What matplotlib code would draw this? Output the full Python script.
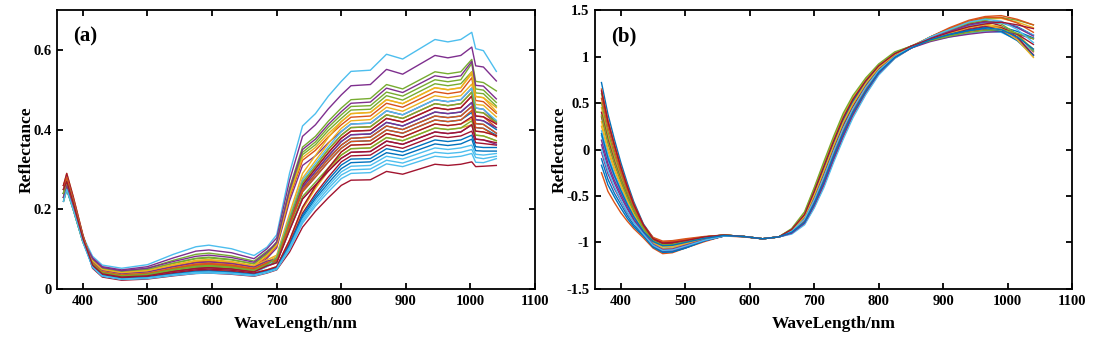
import matplotlib
matplotlib.use("Agg")
import matplotlib.pyplot as plt

# ---------------- data ----------------
# (a) raw reflectance spectra
wavelength_a = [370, 375, 385, 400, 415, 430, 460, 500, 540, 575, 595, 630, 665, 685, 700,
                720, 740, 760, 780, 800, 815, 845, 870, 895, 945, 965, 985, 1002, 1008, 1020, 1040]

raw_spectra = [
    [.240, .270, .216, .127, .060, .038, .030, .034, .045, .053, .055, .051, .044, .059, .071, .160, .244, .281, .319, .353, .370, .372, .399, .391, .424, .420, .424, .443, .405, .403, .386],
    [.230, .260, .208, .122, .062, .040, .032, .036, .049, .058, .060, .056, .047, .062, .077, .171, .261, .302, .342, .378, .396, .398, .428, .419, .455, .450, .455, .484, .434, .432, .405],
    [.250, .270, .216, .127, .058, .036, .028, .031, .041, .048, .050, .047, .040, .048, .056, .120, .200, .252, .296, .336, .352, .354, .380, .372, .404, .400, .404, .412, .386, .384, .372],
    [.220, .250, .200, .118, .065, .043, .035, .040, .053, .063, .065, .061, .052, .077, .103, .221, .310, .334, .367, .395, .414, .416, .447, .437, .475, .470, .475, .504, .454, .451, .418],
    [.240, .270, .216, .127, .075, .053, .045, .052, .072, .087, .090, .083, .070, .095, .114, .244, .343, .369, .406, .437, .458, .460, .494, .484, .525, .520, .525, .566, .502, .499, .468],
    [.250, .280, .224, .132, .082, .060, .052, .061, .087, .106, .110, .101, .084, .105, .136, .291, .409, .440, .484, .521, .546, .549, .589, .577, .626, .620, .626, .644, .603, .598, .546],
    [.260, .280, .224, .132, .052, .030, .022, .025, .033, .039, .040, .037, .032, .040, .048, .093, .155, .195, .229, .260, .273, .274, .295, .288, .313, .310, .313, .319, .307, .308, .310],
    [.230, .260, .208, .122, .063, .041, .033, .037, .048, .056, .058, .054, .047, .062, .075, .167, .255, .295, .334, .370, .387, .389, .418, .409, .444, .440, .444, .468, .425, .422, .400],
    [.240, .270, .216, .127, .068, .046, .038, .043, .057, .068, .070, .065, .056, .081, .108, .230, .323, .348, .382, .412, .431, .434, .466, .456, .495, .490, .495, .530, .473, .470, .441],
    [.260, .290, .232, .136, .057, .035, .027, .030, .040, .047, .048, .045, .039, .047, .055, .123, .205, .258, .303, .344, .361, .363, .390, .381, .414, .410, .414, .427, .396, .394, .385],
    [.230, .260, .208, .122, .078, .056, .048, .056, .078, .095, .098, .091, .076, .101, .128, .273, .383, .412, .452, .487, .510, .513, .551, .539, .586, .580, .586, .607, .560, .557, .522],
    [.240, .270, .216, .127, .072, .050, .042, .048, .065, .077, .080, .074, .063, .088, .119, .254, .356, .383, .421, .454, .475, .478, .513, .502, .545, .540, .545, .576, .521, .518, .497],
    [.220, .250, .200, .118, .055, .033, .025, .028, .035, .041, .042, .039, .034, .042, .050, .102, .170, .214, .252, .286, .299, .301, .323, .316, .343, .340, .343, .350, .330, .327, .333],
    [.250, .280, .224, .132, .057, .035, .027, .030, .039, .046, .047, .044, .038, .046, .054, .114, .190, .239, .281, .319, .334, .336, .361, .353, .384, .380, .384, .396, .367, .365, .361],
    [.240, .270, .216, .127, .061, .039, .031, .035, .046, .054, .056, .052, .045, .060, .073, .163, .249, .288, .327, .361, .378, .381, .409, .400, .434, .430, .434, .458, .415, .413, .391],
    [.250, .280, .224, .132, .066, .044, .036, .040, .052, .061, .063, .059, .051, .066, .078, .175, .267, .308, .350, .386, .405, .407, .437, .428, .465, .460, .465, .494, .444, .442, .414],
    [.230, .260, .208, .122, .070, .048, .040, .045, .059, .070, .072, .067, .058, .073, .085, .190, .290, .335, .380, .420, .440, .443, .475, .465, .505, .500, .505, .540, .483, .480, .455],
    [.240, .270, .216, .127, .059, .037, .029, .032, .043, .050, .052, .049, .042, .057, .066, .148, .226, .261, .296, .328, .343, .345, .371, .363, .394, .390, .394, .412, .376, .374, .363],
    [.220, .250, .200, .118, .074, .052, .044, .049, .064, .076, .078, .073, .063, .088, .112, .240, .337, .362, .398, .428, .449, .451, .485, .474, .515, .510, .515, .545, .492, .490, .459],
    [.230, .260, .208, .122, .054, .032, .024, .026, .034, .039, .040, .038, .033, .041, .049, .099, .165, .208, .244, .277, .290, .292, .314, .307, .333, .330, .333, .340, .318, .317, .327],
    [.260, .290, .232, .136, .060, .038, .030, .034, .044, .052, .054, .050, .043, .058, .077, .171, .261, .302, .342, .378, .396, .398, .428, .419, .455, .450, .455, .484, .434, .432, .414],
    [.240, .270, .216, .127, .056, .034, .026, .029, .037, .043, .044, .041, .036, .044, .052, .108, .180, .227, .266, .302, .317, .319, .342, .335, .364, .360, .364, .376, .347, .346, .346],
    [.230, .260, .208, .122, .064, .042, .034, .038, .050, .059, .061, .057, .049, .064, .071, .160, .244, .281, .319, .353, .370, .372, .399, .391, .424, .420, .424, .448, .405, .403, .382],
    [.250, .270, .216, .127, .067, .045, .037, .041, .054, .064, .066, .062, .053, .068, .082, .182, .278, .322, .365, .403, .422, .425, .456, .446, .485, .480, .485, .514, .463, .461, .432],
    [.240, .270, .216, .127, .069, .047, .039, .043, .056, .066, .068, .064, .055, .070, .075, .167, .255, .295, .334, .370, .387, .389, .418, .409, .444, .440, .444, .468, .425, .422, .405],
    [.230, .250, .200, .118, .061, .039, .031, .035, .047, .055, .057, .053, .045, .060, .068, .152, .232, .268, .304, .336, .352, .354, .380, .372, .404, .400, .404, .422, .386, .384, .372],
    [.250, .280, .224, .132, .059, .037, .029, .032, .042, .049, .051, .048, .041, .056, .080, .179, .273, .315, .357, .395, .414, .416, .447, .437, .475, .470, .475, .504, .454, .451, .423],
    [.260, .280, .224, .132, .058, .036, .028, .031, .041, .048, .050, .047, .040, .048, .056, .123, .205, .258, .303, .344, .361, .363, .390, .381, .414, .410, .414, .432, .396, .394, .385],
    [.240, .260, .208, .122, .056, .034, .026, .029, .037, .044, .045, .042, .036, .044, .052, .111, .185, .233, .274, .311, .326, .327, .352, .344, .374, .370, .374, .386, .357, .355, .355],
    [.250, .280, .224, .132, .065, .043, .035, .039, .052, .062, .064, .060, .051, .066, .073, .163, .249, .288, .327, .361, .378, .381, .409, .400, .434, .430, .434, .458, .415, .413, .391],
    [.240, .270, .216, .127, .071, .049, .041, .046, .061, .072, .074, .069, .059, .084, .110, .235, .330, .355, .390, .420, .440, .443, .475, .465, .505, .500, .505, .545, .483, .480, .445],
    [.230, .260, .208, .122, .076, .054, .046, .052, .069, .082, .085, .079, .067, .092, .117, .249, .350, .376, .413, .445, .466, .469, .504, .493, .535, .530, .535, .571, .511, .509, .477],
    [.240, .270, .216, .127, .063, .041, .033, .037, .049, .057, .059, .055, .047, .062, .078, .175, .267, .308, .350, .386, .405, .407, .437, .428, .465, .460, .465, .494, .444, .442, .419],
    [.220, .250, .200, .118, .055, .033, .025, .028, .036, .042, .043, .040, .035, .043, .051, .105, .175, .221, .259, .294, .308, .310, .333, .326, .354, .350, .354, .361, .338, .336, .340],
    [.250, .270, .216, .127, .060, .038, .030, .033, .044, .051, .053, .050, .043, .058, .066, .148, .226, .261, .296, .328, .343, .345, .371, .363, .394, .390, .394, .412, .376, .374, .367],
]

# (b) standardised (SNV) spectra
wavelength_b = [370, 380, 390, 400, 410, 420, 435, 450, 465, 480, 500, 530, 560, 590, 620, 645, 665,
                685, 700, 715, 730, 745, 760, 780, 800, 825, 850, 880, 910, 940, 965, 990, 1015, 1040]

snv_spectra = [
    [.72, .38, .11, -.14, -.36, -.56, -.80, -.95, -1.005, -1.00, -.98, -.94, -.92, -.935, -.96, -.94, -.87, -.72, -.48, -.22, .05, .30, .50, .71, .88, 1.02, 1.10, 1.20, 1.27, 1.34, 1.37, 1.37, 1.32, 1.23],
    [-.25, -.45, -.57, -.68, -.77, -.85, -.95, -1.06, -1.12, -1.11, -1.06, -.99, -.93, -.94, -.96, -.94, -.90, -.80, -.62, -.39, -.12, .13, .36, .60, .81, .98, 1.09, 1.17, 1.22, 1.27, 1.29, 1.27, 1.19, 1.05],
    [.45, .15, -.08, -.29, -.48, -.64, -.84, -.97, -1.02, -1.01, -.98, -.95, -.92, -.935, -.96, -.94, -.86, -.69, -.44, -.17, .10, .35, .55, .75, .91, 1.04, 1.11, 1.21, 1.29, 1.37, 1.40, 1.41, 1.37, 1.31],
    [.05, -.19, -.36, -.51, -.64, -.76, -.90, -1.03, -1.09, -1.08, -1.04, -.98, -.93, -.935, -.96, -.94, -.89, -.77, -.56, -.32, -.05, .20, .42, .65, .84, 1.00, 1.10, 1.18, 1.25, 1.30, 1.33, 1.30, 1.19, 1.02],
    [.60, .28, .03, -.21, -.41, -.60, -.82, -.95, -.995, -.99, -.97, -.94, -.92, -.935, -.96, -.94, -.88, -.74, -.52, -.27, .00, .25, .46, .68, .86, 1.01, 1.10, 1.21, 1.30, 1.37, 1.41, 1.42, 1.39, 1.34],
    [.15, -.11, -.29, -.46, -.60, -.73, -.89, -1.01, -1.06, -1.05, -1.02, -.96, -.93, -.935, -.96, -.94, -.86, -.70, -.46, -.19, .08, .33, .53, .73, .90, 1.03, 1.11, 1.17, 1.21, 1.25, 1.27, 1.26, 1.18, 1.06],
    [.35, .07, -.15, -.35, -.52, -.67, -.86, -.99, -1.035, -1.03, -1.00, -.955, -.925, -.935, -.96, -.94, -.90, -.79, -.60, -.37, -.10, .15, .38, .62, .82, .99, 1.09, 1.20, 1.28, 1.35, 1.38, 1.33, 1.21, 1.01],
    [-.10, -.32, -.47, -.59, -.71, -.81, -.92, -1.04, -1.105, -1.10, -1.06, -.98, -.93, -.935, -.96, -.94, -.87, -.73, -.50, -.24, .03, .28, .49, .70, .87, 1.02, 1.10, 1.18, 1.24, 1.28, 1.31, 1.32, 1.27, 1.20],
    [.65, .32, .06, -.18, -.39, -.58, -.81, -.945, -.985, -.98, -.96, -.935, -.92, -.935, -.96, -.94, -.89, -.77, -.57, -.33, -.06, .19, .41, .64, .83, 1.00, 1.09, 1.21, 1.30, 1.38, 1.42, 1.42, 1.36, 1.26],
    [.25, -.02, -.22, -.40, -.56, -.70, -.87, -.995, -1.045, -1.04, -1.01, -.96, -.925, -.935, -.96, -.94, -.86, -.68, -.42, -.15, .12, .37, .56, .76, .91, 1.04, 1.11, 1.19, 1.26, 1.32, 1.35, 1.32, 1.23, 1.08],
    [-.03, -.26, -.42, -.55, -.68, -.78, -.91, -1.03, -1.095, -1.09, -1.05, -.98, -.93, -.935, -.96, -.94, -.90, -.78, -.58, -.35, -.08, .17, .39, .63, .82, .99, 1.09, 1.16, 1.21, 1.24, 1.26, 1.27, 1.24, 1.19],
    [.50, .19, -.05, -.26, -.46, -.63, -.83, -.96, -1.005, -1.00, -.98, -.94, -.92, -.935, -.96, -.94, -.87, -.71, -.47, -.21, .06, .31, .51, .72, .89, 1.03, 1.11, 1.20, 1.28, 1.36, 1.39, 1.35, 1.24, 1.06],
    [.20, -.06, -.26, -.43, -.58, -.72, -.88, -.99, -1.03, -1.02, -.99, -.95, -.92, -.935, -.96, -.94, -.91, -.81, -.63, -.41, -.14, .11, .34, .59, .80, .98, 1.09, 1.19, 1.27, 1.33, 1.36, 1.36, 1.31, 1.23],
    [.40, .11, -.12, -.32, -.50, -.66, -.85, -.97, -1.015, -1.01, -.98, -.95, -.92, -.935, -.96, -.94, -.88, -.74, -.52, -.27, .00, .25, .46, .68, .86, 1.01, 1.10, 1.18, 1.24, 1.29, 1.32, 1.31, 1.24, 1.13],
    [-.17, -.38, -.51, -.63, -.74, -.83, -.93, -1.05, -1.105, -1.10, -1.06, -.98, -.93, -.935, -.96, -.94, -.87, -.71, -.46, -.20, .07, .32, .52, .73, .89, 1.03, 1.11, 1.18, 1.23, 1.28, 1.30, 1.27, 1.17, 1.01],
    [.55, .24, -.01, -.24, -.43, -.61, -.83, -.96, -.995, -.99, -.97, -.94, -.92, -.935, -.96, -.94, -.89, -.76, -.54, -.30, -.03, .22, .43, .66, .85, 1.00, 1.10, 1.21, 1.31, 1.39, 1.43, 1.44, 1.40, 1.34],
    [.30, .02, -.19, -.37, -.54, -.69, -.86, -1.00, -1.065, -1.06, -1.02, -.97, -.93, -.935, -.96, -.94, -.87, -.72, -.49, -.23, .04, .29, .49, .71, .88, 1.02, 1.10, 1.19, 1.25, 1.31, 1.34, 1.30, 1.18, .99],
    [.10, -.15, -.33, -.48, -.62, -.75, -.89, -1.02, -1.075, -1.07, -1.03, -.97, -.93, -.935, -.96, -.94, -.90, -.79, -.60, -.37, -.10, .15, .38, .62, .82, .99, 1.09, 1.20, 1.27, 1.34, 1.37, 1.37, 1.31, 1.22],
    [.37, .08, -.14, -.33, -.51, -.66, -.85, -.98, -1.025, -1.02, -.99, -.95, -.92, -.935, -.96, -.94, -.85, -.67, -.41, -.13, .14, .39, .58, .77, .92, 1.05, 1.11, 1.17, 1.22, 1.26, 1.28, 1.29, 1.25, 1.19],
    [.00, -.23, -.40, -.54, -.67, -.78, -.91, -1.03, -1.085, -1.08, -1.04, -.975, -.93, -.935, -.96, -.94, -.88, -.75, -.54, -.29, -.02, .23, .44, .67, .85, 1.00, 1.10, 1.21, 1.29, 1.37, 1.40, 1.38, 1.29, 1.15],
    [.63, .30, .05, -.19, -.40, -.59, -.81, -.96, -1.005, -1.00, -.98, -.94, -.92, -.935, -.96, -.94, -.86, -.70, -.45, -.18, .09, .34, .54, .74, .90, 1.03, 1.11, 1.19, 1.26, 1.32, 1.35, 1.37, 1.34, 1.30],
    [.17, -.09, -.28, -.44, -.59, -.72, -.88, -.99, -1.035, -1.03, -1.00, -.955, -.925, -.935, -.96, -.94, -.89, -.78, -.58, -.34, -.07, .18, .40, .63, .83, .99, 1.09, 1.18, 1.24, 1.28, 1.31, 1.29, 1.21, 1.08],
]

x_ticks = [400, 500, 600, 700, 800, 900, 1000, 1100]
y_ticks_a = [0, 0.2, 0.4, 0.6]
y_tick_labels_a = ["0", "0.2", "0.4", "0.6"]
y_ticks_b = [-1.5, -1, -0.5, 0, 0.5, 1, 1.5]
y_tick_labels_b = ["-1.5", "-1", "-0.5", "0", "0.5", "1", "1.5"]
panel_titles = ["(a)", "(b)"]
x_label = "WaveLength/nm"
y_label = "Reflectance"

# MATLAB default line colour order
line_colors = ["#0072BD", "#D95319", "#EDB120", "#7E2F8E", "#77AC30", "#4DBEEE", "#A2142F"]

# ---------------- drawing ----------------
plt.rcParams["font.family"] = ["Liberation Serif", "DejaVu Serif"]
plt.rcParams["font.weight"] = "bold"

fig = plt.figure(figsize=(11.12, 3.44), dpi=100)
ax_a = fig.add_axes([0.0513, 0.1599, 0.4299, 0.8110])
ax_b = fig.add_axes([0.5351, 0.1599, 0.4290, 0.8110])

for i, row in enumerate(raw_spectra):
    ax_a.plot(wavelength_a, row, color=line_colors[i % 7], lw=1.0)
for i, row in enumerate(snv_spectra):
    ax_b.plot(wavelength_b, row, color=line_colors[i % 7], lw=1.0)

ax_a.set_ylim(0, 0.7)
ax_a.set_yticks(y_ticks_a)
ax_a.set_yticklabels(y_tick_labels_a)
ax_b.set_ylim(-1.5, 1.5)
ax_b.set_yticks(y_ticks_b)
ax_b.set_yticklabels(y_tick_labels_b)

for ax, title in zip((ax_a, ax_b), panel_titles):
    ax.set_xlim(360, 1100)
    ax.set_xticks(x_ticks)
    ax.set_xticklabels([str(t) for t in x_ticks])
    ax.tick_params(direction="in", top=True, right=True, length=4.5, width=1.3,
                   labelsize=10.5, pad=4)
    for lab in ax.get_xticklabels() + ax.get_yticklabels():
        lab.set_fontweight("bold")
    for sp in ax.spines.values():
        sp.set_linewidth(1.3)
    ax.set_xlabel(x_label, fontsize=12.5, fontweight="bold", labelpad=6)
    ax.set_ylabel(y_label, fontsize=12.5, fontweight="bold", labelpad=-1)
    ax.text(0.033, 0.905, title, transform=ax.transAxes, fontsize=15,
            fontweight="bold", ha="left", va="center")

fig.savefig("out.png", dpi=100)
